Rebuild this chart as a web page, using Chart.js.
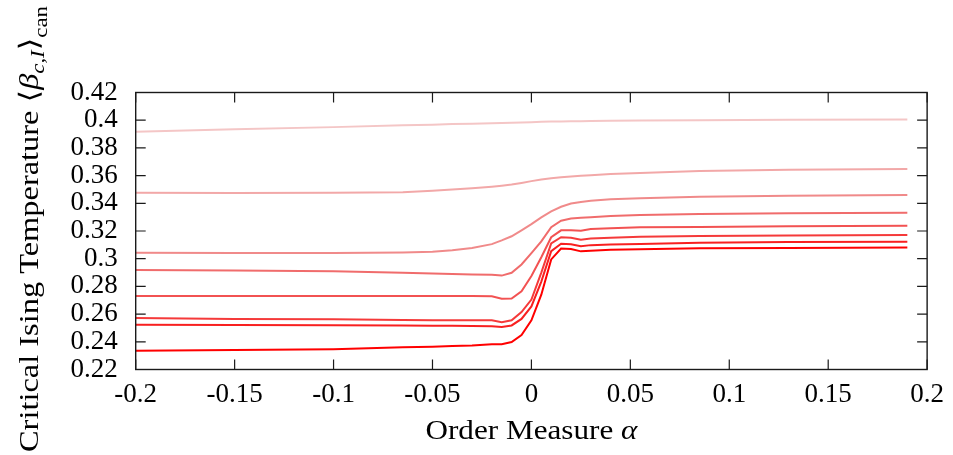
<!DOCTYPE html>
<html>
<head>
<meta charset="utf-8">
<script src="https://cdn.jsdelivr.net/npm/chart.js@4.4.1/dist/chart.umd.min.js"></script>
<style>
html,body{margin:0;padding:0;background:#fff;}
#c{display:block;}
</style>
</head>
<body>
<canvas id="c" width="953" height="455"></canvas>
<script>
// ---- data ----
const xValues = [-0.2, -0.15, -0.1, -0.065, -0.05, -0.04, -0.03, -0.02, -0.015, -0.01, -0.005, 0, 0.005, 0.01, 0.015, 0.02, 0.025, 0.03, 0.04, 0.055, 0.085, 0.13, 0.19];
const series1 = [0.3917, 0.3935, 0.3950, 0.3963, 0.3968, 0.3972, 0.3975, 0.3978, 0.3980, 0.3982, 0.3984, 0.3986, 0.3988, 0.3990, 0.3991, 0.3992, 0.3993, 0.3994, 0.3996, 0.3998, 0.4000, 0.4003, 0.4005];
const series2 = [0.3477, 0.3475, 0.3476, 0.3479, 0.3490, 0.3499, 0.3509, 0.3520, 0.3527, 0.3535, 0.3547, 0.3560, 0.3572, 0.3581, 0.3588, 0.3594, 0.3599, 0.3603, 0.3611, 0.3618, 0.3633, 0.3642, 0.3648];
const series3 = [0.3043, 0.3042, 0.3041, 0.3044, 0.3050, 0.3061, 0.3078, 0.3105, 0.3132, 0.3162, 0.3205, 0.3250, 0.3298, 0.3342, 0.3375, 0.3398, 0.3410, 0.3419, 0.3429, 0.3437, 0.3448, 0.3455, 0.3460];
const series4 = [0.2918, 0.2915, 0.2909, 0.2898, 0.2893, 0.2889, 0.2886, 0.2884, 0.2878, 0.2898, 0.2958, 0.3040, 0.3125, 0.3228, 0.3274, 0.3290, 0.3296, 0.3300, 0.3308, 0.3315, 0.3323, 0.3328, 0.3332];
const series5 = [0.2731, 0.2731, 0.2731, 0.2731, 0.2731, 0.2731, 0.2731, 0.2728, 0.2711, 0.2712, 0.2765, 0.2875, 0.3010, 0.3155, 0.3205, 0.3205, 0.3202, 0.3215, 0.3220, 0.3227, 0.3229, 0.3234, 0.3238];
const series6 = [0.2572, 0.2565, 0.2562, 0.2557, 0.2555, 0.2555, 0.2555, 0.2555, 0.2542, 0.2555, 0.2615, 0.2705, 0.2900, 0.3110, 0.3155, 0.3152, 0.3137, 0.3145, 0.3152, 0.3158, 0.3163, 0.3168, 0.3171];
const series7 = [0.2524, 0.2521, 0.2519, 0.2517, 0.2516, 0.2515, 0.2514, 0.2512, 0.2507, 0.2518, 0.2565, 0.2655, 0.2835, 0.3055, 0.3108, 0.3105, 0.3090, 0.3098, 0.3102, 0.3106, 0.3116, 0.3120, 0.3123];
const series8 = [0.2336, 0.2340, 0.2346, 0.2360, 0.2365, 0.2369, 0.2373, 0.2382, 0.2382, 0.2398, 0.2448, 0.2555, 0.2740, 0.2995, 0.3073, 0.3070, 0.3053, 0.3058, 0.3064, 0.3068, 0.3075, 0.3078, 0.3080];
const xTickLabels = ['-0.2', '-0.15', '-0.1', '-0.05', '0', '0.05', '0.1', '0.15', '0.2'];
const yTickLabels = ['0.22', '0.24', '0.26', '0.28', '0.3', '0.32', '0.34', '0.36', '0.38', '0.4', '0.42'];

const allSeries = [series1, series2, series3, series4, series5, series6, series7, series8];
const colors = ['#f4c6c6', '#f2a8a8', '#f08a8a', '#f06c6c', '#f25252', '#f53a3a', '#f82020', '#ff0000'];

const FONT = '"Liberation Serif", "DejaVu Serif", serif';
const FS = 27;

const datasets = allSeries.map((s, i) => ({
  data: xValues.map((x, j) => ({x: x, y: s[j]})),
  borderColor: colors[i],
  borderWidth: 2,
  pointRadius: 0,
  tension: 0,
  fill: false
}));

function drawRuns(ctx, runs) {
  let px = 0;
  runs.forEach(r => {
    ctx.font = r.f;
    ctx.fillText(r.t, px, r.dy);
    px += ctx.measureText(r.t).width;
  });
}
function runsWidth(ctx, runs) {
  let w = 0;
  runs.forEach(r => { ctx.font = r.f; w += ctx.measureText(r.t).width; });
  return w;
}

const framePlugin = {
  id: 'frame',
  afterDraw(chart) {
    const {ctx, chartArea: a, scales} = chart;
    const xs = scales.x, ys = scales.y;
    ctx.save();
    ctx.strokeStyle = '#1a1a1a';
    ctx.lineWidth = 1.4;
    ctx.strokeRect(a.left, a.top, a.right - a.left, a.bottom - a.top);
    ctx.lineWidth = 1.2;
    ctx.beginPath();
    const TL = 10;
    xs.ticks.forEach(t => {
      const p = xs.getPixelForValue(t.value);
      ctx.moveTo(p, a.bottom); ctx.lineTo(p, a.bottom - TL);
      ctx.moveTo(p, a.top); ctx.lineTo(p, a.top + TL);
    });
    ys.ticks.forEach(t => {
      const p = ys.getPixelForValue(t.value);
      ctx.moveTo(a.left, p); ctx.lineTo(a.left + TL, p);
      ctx.moveTo(a.right, p); ctx.lineTo(a.right - TL, p);
    });
    ctx.stroke();

    ctx.fillStyle = '#000';
    ctx.textBaseline = 'alphabetic';
    ctx.textAlign = 'left';
    const f1 = FS + 'px ' + FONT, fi = 'italic ' + FS + 'px ' + FONT;
    const sub = Math.round(FS * 0.72);

    // x-axis title (stretched to the width of the Computer Modern original)
    const xr = [
      {t: 'Order Measure ', f: f1, dy: 0},
      {t: '\u03B1', f: fi, dy: 0}
    ];
    const xw = runsWidth(ctx, xr);
    const xTarget = 212;
    const cx = (a.left + a.right) / 2;
    ctx.save();
    ctx.translate(cx - xTarget / 2, 439);
    ctx.scale(xTarget / xw, 1);
    drawRuns(ctx, xr);
    ctx.restore();

    // y-axis title (rotated)
    const yr = [
      {t: 'Critical Ising Temperature ', f: f1, dy: 0},
      {t: '\u27E8', f: f1, dy: 0},
      {t: '\u03B2', f: fi, dy: 0},
      {t: 'c,I', f: 'italic ' + sub + 'px ' + FONT, dy: 6},
      {t: '\u27E9', f: f1, dy: 0},
      {t: 'can', f: sub + 'px ' + FONT, dy: 9}
    ];
    const yw = runsWidth(ctx, yr);
    const yTarget = 446;
    ctx.save();
    ctx.translate(38, 452);
    ctx.rotate(-Math.PI / 2);
    ctx.scale(yTarget / yw, 1);
    drawRuns(ctx, yr);
    ctx.restore();
    ctx.restore();
  }
};

new Chart(document.getElementById('c'), {
  type: 'line',
  data: {datasets: datasets},
  options: {
    responsive: false,
    animation: false,
    events: [],
    layout: {padding: {top: 92.5, right: 25.3, left: 0, bottom: 0}},
    plugins: {legend: {display: false}, tooltip: {enabled: false}},
    scales: {
      x: {
        type: 'linear', min: -0.2, max: 0.2,
        border: {display: false},
        grid: {display: false, drawTicks: false},
        ticks: {
          stepSize: 0.05, padding: 9, color: '#000', maxRotation: 0, autoSkip: false,
          font: {family: FONT, size: FS},
          callback: (v, i) => xTickLabels[i] !== undefined ? xTickLabels[i] : ''
        },
        afterFit(s) { s.height = 85.5; }
      },
      y: {
        type: 'linear', min: 0.22, max: 0.42,
        border: {display: false},
        grid: {display: false, drawTicks: false},
        ticks: {
          stepSize: 0.02, padding: 18, color: '#000', autoSkip: false,
          font: {family: FONT, size: FS},
          callback: (v, i) => yTickLabels[i] !== undefined ? yTickLabels[i] : ''
        },
        afterFit(s) { s.width = 135.7; }
      }
    }
  },
  plugins: [framePlugin]
});
</script>
</body>
</html>
